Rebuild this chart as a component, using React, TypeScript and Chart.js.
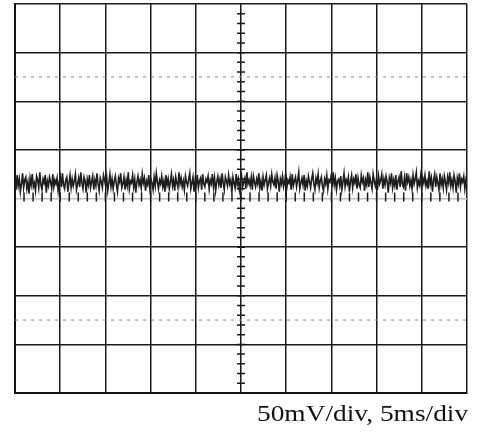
import React, { useEffect, useRef } from "react";
import { Chart, registerables } from "chart.js";

Chart.register(...registerables);

// Time axis: 0..50 ms (5 ms/div), voltage axis: -200..200 mV (50 mV/div)
const timeRange = [0, 50];
const voltRange = [-200, 200];
const timeStep = 5;
const voltStep = 50;
const dashedLevels = [125, -125];
const caption = "50mV/div, 5ms/div";

// Noisy trace samples (mV)
const traceValues = [
  18, 9, 24, 13, 20, 7, 15, 26, 11, 19, 22, 10, 17, 5, 21, 14, 25, 12, 16, 8,
  23, 19, 11, 27, 14, 9, 20, 16, 24, 6, 18, 13, 22, 17, 10, 25, 12, 19, 15, 21,
  8, 17, 23, 12, 26, 14, 10, 19, 22, 7, 16, 24, 11, 20, 13, 18, 25, 9, 15, 21,
  12, 27, 16, 10, 22, 18, 6, 20, 14, 24, 11, 17, 23, 9, 19, 13, 26, 15, 8, 21,
  17, 11, 24, 19, 13, 22, 8, 16, 25, 12, 20, 10, 18, 23, 14, 7, 21, 17, 26, 11,
  15, 22, 9, 19, 13, 27, 10, 18, 16, 24, 12, 20, 6, 17, 23, 14, 19, 11, 25, 16,
  21, 8, 18, 14, 24, 11, 20, 16, 9, 22, 13, 26, 17, 10, 19, 15, 23, 12, 18, 7,
  24, 14, 20, 10, 17, 25, 13, 19, 8, 22, 16, 11, 27, 15, 21, 12, 18, 9, 23, 17,
  13, 20, 26, 10, 16, 22, 7, 19, 14, 24, 11, 18, 21, 9, 25, 15, 12, 20, 17, 23,
  10, 19, 15, 25, 12, 21, 8, 17, 23, 14, 20, 11, 26, 16, 9, 22, 18, 13, 24, 15,
  19, 6, 22, 16, 11, 25, 14, 20, 9, 18, 24, 12, 17, 21, 10, 27, 15, 19, 13, 22,
  9, 23, 17, 12, 20, 15, 26, 11, 18, 8, 22, 14, 19, 24, 10, 16, 21, 13, 25, 17,
  14, 21, 10, 24, 18, 7, 20, 15, 23, 12, 17, 26, 11, 19, 16, 22, 9, 25, 13, 18,
  22, 12, 19, 27, 10, 16, 21, 14, 24, 8, 18, 13, 23, 17, 11, 20, 26, 15, 9, 21,
  16, 25, 11, 18, 22, 13, 8, 20, 15, 24, 10, 19, 17, 23, 12, 27, 14, 21, 9, 18,
  20, 13, 23, 9, 17, 26, 12, 19, 15, 22, 7, 18, 24, 11, 20, 16, 25, 10, 21, 14,
  11, 24, 17, 21, 8, 19, 14, 27, 12, 22, 16, 10, 25, 18, 13, 20, 9, 23, 15, 19,
  25, 10, 20, 14, 23, 17, 6, 21, 16, 26, 11, 19, 13, 24, 9, 18, 22, 12, 28, 15,
  12, 21, 8, 26, 17, 22, 13, 19, 10, 24, 15, 20, 27, 11, 18, 14, 23, 9, 21, 16,
  24, 13, 18, 10, 28, 15, 21, 7, 19, 25, 12, 22, 16, 9, 26, 14, 20, 11, 23, 17,
  9, 22, 16, 27, 13, 19, 11, 24, 18, 6, 21, 15, 26, 12, 20, 17, 23, 10, 19, 14,
];

const minorTicksPlugin = {
  id: "scopeMinorTicks",
  afterDatasetsDraw(chart: any) {
    const { ctx, scales } = chart;
    const xs = scales.x;
    const ys = scales.y;
    const cx = xs.getPixelForValue(25);
    const cy = ys.getPixelForValue(0);
    ctx.save();
    ctx.strokeStyle = "#1a1a1a";
    ctx.lineWidth = 1.5;
    ctx.beginPath();
    for (let v = voltRange[0] + 10; v < voltRange[1]; v += 10) {
      const py = ys.getPixelForValue(v);
      ctx.moveTo(cx - 4, py);
      ctx.lineTo(cx + 4, py);
    }
    for (let t = timeRange[0] + 1; t < timeRange[1]; t += 1) {
      const px = xs.getPixelForValue(t);
      ctx.moveTo(px, cy - 6);
      ctx.lineTo(px, cy + 3);
    }
    ctx.stroke();
    ctx.restore();
  },
};

export default function App() {
  const ref = useRef<HTMLCanvasElement>(null);
  useEffect(() => {
    const n = traceValues.length;
    const pts = traceValues.map((v, i) => ({ x: (timeRange[1] * i) / (n - 1), y: v }));
    const dashed = dashedLevels.map((lv) => ({
      data: [
        { x: timeRange[0], y: lv },
        { x: timeRange[1], y: lv },
      ],
      borderColor: "#8a8a8a",
      borderWidth: 1,
      borderDash: [3, 5],
      pointRadius: 0,
      order: 2,
    }));
    const chart = new Chart(ref.current!, {
      type: "line",
      data: {
        datasets: [
          {
            data: pts,
            borderColor: "#1e1e1e",
            borderWidth: 1.6,
            pointRadius: 0,
            tension: 0,
            order: 1,
          },
          ...dashed,
        ],
      },
      options: {
        animation: false,
        responsive: false,
        layout: { padding: { left: 15, right: 18, top: 4, bottom: 39 } },
        plugins: { legend: { display: false }, tooltip: { enabled: false } },
        scales: {
          x: {
            type: "linear",
            min: timeRange[0],
            max: timeRange[1],
            ticks: { display: false, stepSize: timeStep },
            grid: { color: "#1a1a1a", lineWidth: 1.5, drawTicks: false },
            border: { display: true, color: "#111", width: 2 },
          },
          y: {
            type: "linear",
            min: voltRange[0],
            max: voltRange[1],
            ticks: { display: false, stepSize: voltStep },
            grid: {
              color: (c: any) => (c.tick && c.tick.value === 0 ? "#bdbdbd" : "#1a1a1a"),
              lineWidth: 1.5,
              drawTicks: false,
            },
            border: { display: true, color: "#111", width: 2 },
          },
        },
      },
      plugins: [minorTicksPlugin],
    });
    return () => chart.destroy();
  }, []);
  return (
    <div style={{ position: "absolute", left: 0, top: 0, width: 485, height: 432, background: "#fff" }}>
      <canvas ref={ref} width={485} height={432} />
      <div
        style={{
          position: "absolute",
          left: 257,
          top: 401,
          fontFamily: "'Liberation Serif', 'Times New Roman', serif",
          fontSize: 23,
          color: "#111",
          whiteSpace: "nowrap",
          transform: "scaleX(1.19)",
          transformOrigin: "left top",
        }}
      >
        {caption}
      </div>
    </div>
  );
}
